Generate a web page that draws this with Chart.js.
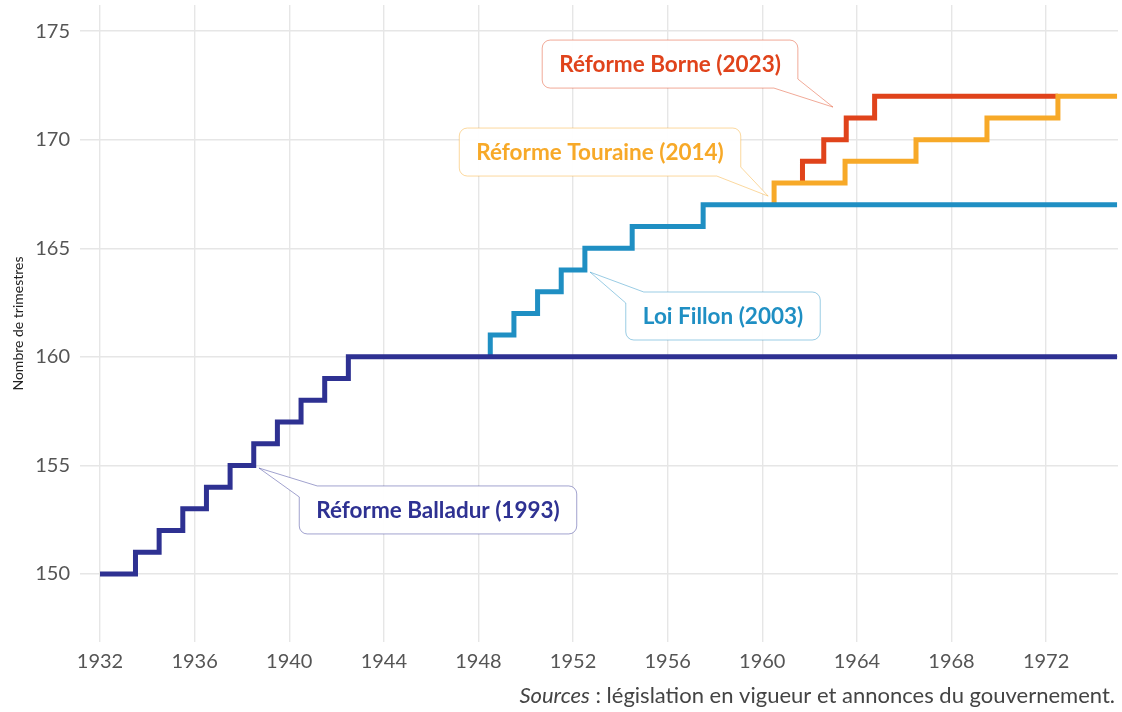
<!DOCTYPE html>
<html lang="fr">
<head>
<meta charset="utf-8">
<title>Nombre de trimestres requis</title>
<script src="https://cdn.jsdelivr.net/npm/chart.js@4.4.1/dist/chart.umd.min.js"></script>
<style>
  html, body { margin: 0; padding: 0; background: #fff; }
  canvas { display: block; }
</style>
</head>
<body>
<canvas id="trimestres" width="1122" height="712"></canvas>
<script>
// Steps: year at which each value begins
// (a reform's first point repeats its first year so its line starts with the vertical step)
const balladurYears = [1932, 1933.5, 1934.5, 1935.5, 1936.5, 1937.5, 1938.5, 1939.5, 1940.5, 1941.5, 1942.5, 1975];
const balladurValues = [150, 151, 152, 153, 154, 155, 156, 157, 158, 159, 160, 160];

const fillonYears = [1948.5, 1948.5, 1949.5, 1950.5, 1951.5, 1952.5, 1954.5, 1957.5, 1975];
const fillonValues = [160, 161, 162, 163, 164, 165, 166, 167, 167];

const touraineYears = [1960.5, 1960.5, 1963.5, 1966.5, 1969.5, 1972.5, 1975];
const touraineValues = [167, 168, 169, 170, 171, 172, 172];

const borneYears = [1961.7, 1961.7, 1962.6, 1963.55, 1964.75, 1972.5];
const borneValues = [168, 169, 170, 171, 172, 172];

const xTicks = [1932, 1936, 1940, 1944, 1948, 1952, 1956, 1960, 1964, 1968, 1972];
const yTicks = [150, 155, 160, 165, 170, 175];

const colors = {
    balladur: '#2e3192',
    fillon: '#1f8fc3',
    touraine: '#f7a928',
    borne: '#e0431b'
};

function toPoints(xs, ys) {
    return xs.map((x, i) => ({ x: x, y: ys[i] }));
}

// Callout labels (box centre and arrow tip in data units)
const callouts = [
    { text: 'Réforme Borne (2023)', color: colors.borne, box: [1956.1, 173.48], tip: [1962.99, 171.5], corner: 'br' },
    { text: 'Réforme Touraine (2014)', color: colors.touraine, box: [1953.14, 169.43], tip: [1960.25, 167.4], corner: 'br' },
    { text: 'Loi Fillon (2003)', color: colors.fillon, box: [1958.34, 161.88], tip: [1952.72, 163.9], corner: 'tl' },
    { text: 'Réforme Balladur (1993)', color: colors.balladur, box: [1946.29, 152.95], tip: [1938.72, 154.88], corner: 'tl' }
];

function hexAlpha(hex, a) {
    const n = parseInt(hex.slice(1), 16);
    return 'rgba(' + (n >> 16) + ',' + ((n >> 8) & 255) + ',' + (n & 255) + ',' + a + ')';
}

const calloutPlugin = {
    id: 'callouts',
    afterDatasetsDraw(chart) {
        const ctx = chart.ctx;
        const xs = chart.scales.x, ys = chart.scales.y;
        ctx.save();
        ctx.font = 'bold 22.5px Lato, "Open Sans", sans-serif';
        ctx.textAlign = 'center';
        ctx.textBaseline = 'middle';
        callouts.forEach(c => {
            const cx = xs.getPixelForValue(c.box[0]);
            const cy = ys.getPixelForValue(c.box[1]);
            const w = ctx.measureText(c.text).width + 34;
            const h = 48;
            const L = cx - w / 2, R = cx + w / 2, T = cy - h / 2, B = cy + h / 2;
            const r = 8;
            const ax = xs.getPixelForValue(c.tip[0]);
            const ay = ys.getPixelForValue(c.tip[1]);
            ctx.beginPath();
            if (c.corner === 'tl') {
                ctx.moveTo(L + 18, T);
                ctx.lineTo(R - r, T);
                ctx.arcTo(R, T, R, T + r, r);
                ctx.lineTo(R, B - r);
                ctx.arcTo(R, B, R - r, B, r);
                ctx.lineTo(L + r, B);
                ctx.arcTo(L, B, L, B - r, r);
                ctx.lineTo(L, T + 11);
                ctx.lineTo(ax, ay);
            } else {
                ctx.moveTo(R - 24, B);
                ctx.lineTo(L + r, B);
                ctx.arcTo(L, B, L, B - r, r);
                ctx.lineTo(L, T + r);
                ctx.arcTo(L, T, L + r, T, r);
                ctx.lineTo(R - r, T);
                ctx.arcTo(R, T, R, T + r, r);
                ctx.lineTo(R, B - 9);
                ctx.lineTo(ax, ay);
            }
            ctx.closePath();
            ctx.fillStyle = 'rgba(255,255,255,0.95)';
            ctx.fill();
            ctx.lineWidth = 1;
            ctx.strokeStyle = hexAlpha(c.color, 0.45);
            ctx.stroke();
            ctx.fillStyle = c.color;
            ctx.fillText(c.text, cx, cy + 1);
        });
        ctx.restore();
    },
    afterDraw(chart) {
        // source line, bottom right
        const ctx = chart.ctx;
        ctx.save();
        ctx.textBaseline = 'alphabetic';
        ctx.fillStyle = '#444';
        const italic = 'italic 22px Lato, "Open Sans", sans-serif';
        const normal = '22px Lato, "Open Sans", sans-serif';
        const first = 'Sources';
        const rest = ' : législation en vigueur et annonces du gouvernement.';
        ctx.font = normal;
        const wRest = ctx.measureText(rest).width;
        ctx.font = italic;
        const wFirst = ctx.measureText(first).width;
        const right = 1115;
        const base = 703;
        ctx.textAlign = 'left';
        ctx.fillText(first, right - wRest - wFirst, base);
        ctx.font = normal;
        ctx.fillText(rest, right - wRest, base);
        ctx.restore();
    }
};

const gridStyle = { color: '#e6e6e6', lineWidth: 1.4, drawTicks: false };
const tickFont = { family: 'Lato, "Open Sans", sans-serif', size: 20 };

const chart = new Chart(document.getElementById('trimestres').getContext('2d'), {
    type: 'line',
    data: {
        datasets: [
            { label: 'Réforme Balladur (1993)', data: toPoints(balladurYears, balladurValues), borderColor: colors.balladur },
            { label: 'Loi Fillon (2003)', data: toPoints(fillonYears, fillonValues), borderColor: colors.fillon },
            { label: 'Réforme Touraine (2014)', data: toPoints(touraineYears, touraineValues), borderColor: colors.touraine },
            { label: 'Réforme Borne (2023)', data: toPoints(borneYears, borneValues), borderColor: colors.borne }
        ].map(d => Object.assign(d, {
            borderWidth: 5,
            stepped: 'before',
            pointRadius: 0,
            fill: false,
            borderJoinStyle: 'miter',
            borderCapStyle: 'butt'
        }))
    },
    options: {
        responsive: false,
        animation: false,
        layout: { padding: { top: 5, right: 4, left: 0, bottom: 0 } },
        plugins: {
            legend: { display: false },
            tooltip: { enabled: false }
        },
        scales: {
            x: {
                type: 'linear',
                min: 1931.154,
                max: 1975.04,
                grid: gridStyle,
                border: { display: false },
                afterBuildTicks: scale => { scale.ticks = xTicks.map(v => ({ value: v })); },
                afterFit: scale => {
                    scale.height = 70;
                    scale.paddingLeft = 0;
                    scale.paddingRight = 0;
                },
                ticks: {
                    font: tickFont,
                    color: '#555',
                    padding: 8,
                    maxRotation: 0,
                    callback: v => String(v)
                }
            },
            y: {
                min: 146.87,
                max: 176.2,
                grid: gridStyle,
                border: { display: false },
                afterBuildTicks: scale => { scale.ticks = yTicks.map(v => ({ value: v })); },
                afterFit: scale => {
                    scale.width = 80;
                    scale.paddingTop = 0;
                    scale.paddingBottom = 0;
                },
                title: {
                    display: true,
                    text: 'Nombre de trimestres',
                    color: '#222',
                    font: { family: 'Lato, "Open Sans", sans-serif', size: 14 },
                    padding: { top: 10, bottom: 0 }
                },
                ticks: {
                    font: tickFont,
                    color: '#555',
                    padding: 10,
                    callback: v => String(v)
                }
            }
        }
    },
    plugins: [calloutPlugin]
});
</script>
</body>
</html>
